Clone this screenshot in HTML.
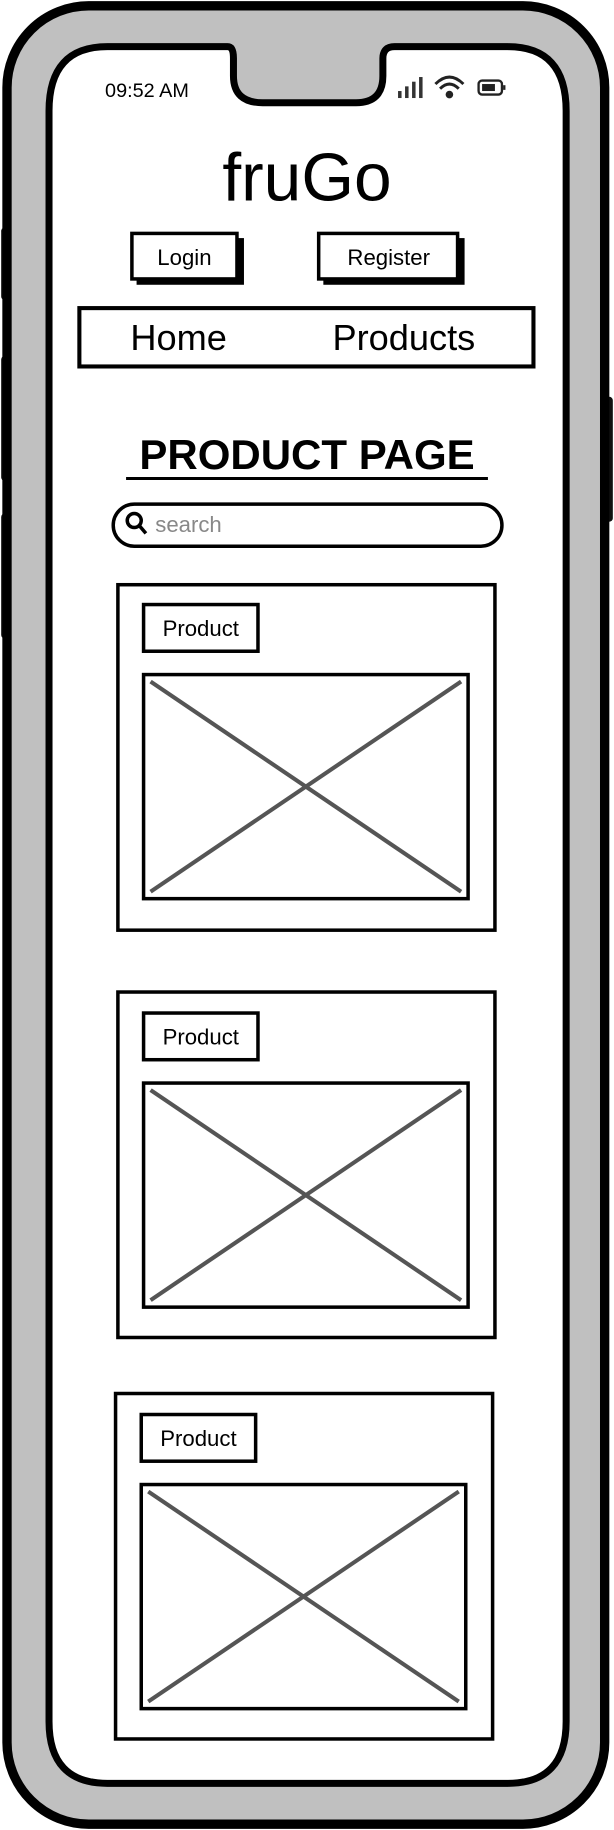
<!DOCTYPE html>
<html><head><meta charset="utf-8"><style>
html,body{margin:0;padding:0;background:#fff;}
svg{display:block;}
text{font-family:"Liberation Sans",sans-serif;}
</style></head><body>
<svg width="614" height="1830" viewBox="0 0 526 1568" preserveAspectRatio="none">
<!-- side buttons -->
<rect x="1" y="195" width="10" height="62" rx="3" fill="#111"/>
<rect x="1" y="305" width="10" height="107" rx="3" fill="#111"/>
<rect x="1" y="440" width="10" height="107" rx="3" fill="#111"/>
<rect x="515" y="340" width="10" height="107" rx="3" fill="#111"/>
<!-- body -->
<rect x="6" y="5" width="512" height="1558" rx="70" fill="#c0c0c0" stroke="#000" stroke-width="8"/>
<path d="M92 40 H195 Q200 40 200 50 V65 Q200 88 225 88 H305 Q328 88 328 65 V50 Q328 40 338 40 H435 Q485 40 485 95 V1475 Q485 1528 435 1528 H92 Q42 1528 42 1475 V95 Q42 40 92 40 Z" fill="#fff" stroke="#000" stroke-width="6"/>
<!-- status bar -->
<text x="90" y="83" font-size="17" fill="#000">09:52 AM</text>
<g fill="#333">
<rect x="341" y="78" width="3" height="6"/><rect x="347" y="74" width="3" height="10"/><rect x="353" y="70" width="3" height="14"/><rect x="359" y="66" width="3" height="18"/></g>
<g fill="none" stroke="#222" stroke-width="2.5">
<path d="M373 72 Q385 60 397 72"/><path d="M377 76 Q385 68 393 76"/><circle cx="385" cy="81" r="2" fill="#222"/></g>
<g><rect x="410" y="69" width="20" height="12" rx="3" fill="none" stroke="#222" stroke-width="2"/><rect x="413" y="72" width="11" height="6" fill="#222"/><rect x="431" y="73" width="2" height="4" fill="#222"/></g>
<!-- logo -->
<text x="263" y="172" font-size="58" text-anchor="middle" fill="#000">fruGo</text>
<!-- buttons -->
<g>
<rect x="117" y="204" width="92" height="40" fill="#000"/><rect x="113" y="200" width="90" height="39" fill="#fff" stroke="#000" stroke-width="3"/>
<text x="158" y="227" font-size="19" text-anchor="middle">Login</text></g>
<g>
<rect x="277" y="204" width="121" height="40" fill="#000"/><rect x="273" y="200" width="119" height="39" fill="#fff" stroke="#000" stroke-width="3"/>
<text x="333" y="227" font-size="19" text-anchor="middle">Register</text></g>
<!-- nav -->
<rect x="68" y="264" width="389" height="50" fill="#fff" stroke="#000" stroke-width="3.5"/>
<text x="153" y="300" font-size="31" text-anchor="middle">Home</text>
<text x="346" y="300" font-size="31" text-anchor="middle">Products</text>
<!-- title -->
<text x="263" y="402" font-size="36" font-weight="bold" text-anchor="middle">PRODUCT PAGE</text>
<line x1="108" y1="410" x2="418" y2="410" stroke="#000" stroke-width="2.5"/>
<!-- search -->
<g>
<rect x="97" y="432" width="333" height="36" rx="18" fill="#fff" stroke="#000" stroke-width="3"/>
<circle cx="115" cy="446" r="6" fill="none" stroke="#000" stroke-width="3"/><line x1="119" y1="450" x2="125" y2="457" stroke="#000" stroke-width="3"/>
<text x="133" y="456" font-size="19" fill="#888">search</text></g>
<!-- cards -->
<g>
<rect x="101" y="501" width="323" height="296" fill="#fff" stroke="#000" stroke-width="3"/>
<rect x="123" y="518" width="98" height="40" fill="#fff" stroke="#000" stroke-width="3"/>
<text x="172" y="545" font-size="19" text-anchor="middle">Product</text>
<rect x="123" y="578" width="278" height="192" fill="#fff" stroke="#000" stroke-width="3"/>
<line x1="129" y1="584" x2="395" y2="764" stroke="#555" stroke-width="3.5"/><line x1="395" y1="584" x2="129" y2="764" stroke="#555" stroke-width="3.5"/></g>
<g>
<rect x="101" y="850" width="323" height="296" fill="#fff" stroke="#000" stroke-width="3"/>
<rect x="123" y="868" width="98" height="40" fill="#fff" stroke="#000" stroke-width="3"/>
<text x="172" y="895" font-size="19" text-anchor="middle">Product</text>
<rect x="123" y="928" width="278" height="192" fill="#fff" stroke="#000" stroke-width="3"/>
<line x1="129" y1="934" x2="395" y2="1114" stroke="#555" stroke-width="3.5"/><line x1="395" y1="934" x2="129" y2="1114" stroke="#555" stroke-width="3.5"/></g>
<g>
<rect x="99" y="1194" width="323" height="296" fill="#fff" stroke="#000" stroke-width="3"/>
<rect x="121" y="1212" width="98" height="40" fill="#fff" stroke="#000" stroke-width="3"/>
<text x="170" y="1239" font-size="19" text-anchor="middle">Product</text>
<rect x="121" y="1272" width="278" height="192" fill="#fff" stroke="#000" stroke-width="3"/>
<line x1="127" y1="1278" x2="393" y2="1458" stroke="#555" stroke-width="3.5"/><line x1="393" y1="1278" x2="127" y2="1458" stroke="#555" stroke-width="3.5"/></g>
</svg>
</body></html>
